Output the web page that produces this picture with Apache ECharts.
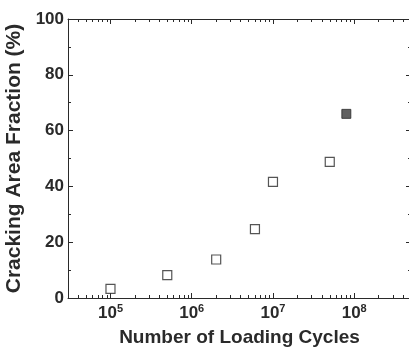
<!DOCTYPE html>
<html><head><meta charset="utf-8">
<script src="https://cdn.jsdelivr.net/npm/echarts@6/dist/echarts.min.js"></script>
<style>html,body{margin:0;padding:0;background:#fff}#c{width:409px;height:347px}</style>
</head><body><div id="c"></div>
<script>
const openCycles = [1e5, 5e5, 2e6, 6e6, 1e7, 5e7];
const openFraction = [3.3, 8.2, 13.8, 24.7, 41.6, 48.8];
const filledCycles = [8e7];
const filledFraction = [66.0];
const xMajorTicks = [1e5, 1e6, 1e7, 1e8];
const xMinorTicks = [];
for (let d = 4; d <= 8; d++) for (let m = 2; m <= 9; m++) { const v = m * Math.pow(10, d); if (v >= 3e4 && v <= 5e8) xMinorTicks.push(v); }
const yTicks = [0, 20, 40, 60, 80, 100];

const ink = '#2a2a2a';
const font = 'Liberation Sans, Arial, sans-serif';
const xmin = 3e4, xmax = 5e8;

function xAx(pos, custom, len, showLabel, showLine) {
  return {
    type: 'log', logBase: 10, min: xmin, max: xmax, position: pos,
    axisLine: { show: showLine, lineStyle: { color: ink, width: 1 } },
    axisTick: { show: true, inside: true, length: len, customValues: custom, lineStyle: { color: ink, width: 1 } },
    axisLabel: showLabel ? {
      show: true, customValues: xMajorTicks, margin: 5,
      formatter: v => '{b|10}{s|' + Math.round(Math.log10(v)) + '}',
      rich: {
        b: { fontSize: 17, fontWeight: 'bold', fontFamily: font, color: ink, lineHeight: 20 },
        s: { fontSize: 11, fontWeight: 'bold', fontFamily: font, color: ink, verticalAlign: 'top', lineHeight: 11 }
      }
    } : { show: false },
    splitLine: { show: false }, minorTick: { show: false }, minorSplitLine: { show: false }
  };
}
function yAx(pos, showLabel) {
  return {
    type: 'value', min: 0, max: 100, interval: 20, position: pos,
    axisLine: { show: true, lineStyle: { color: ink, width: 1 } },
    axisTick: { show: true, inside: true, length: 5, lineStyle: { color: ink, width: 1 } },
    minorTick: { show: true, splitNumber: 2, length: 3, lineStyle: { color: ink, width: 1 } },
    axisLabel: showLabel ? { show: true, fontSize: 17, fontWeight: 'bold', fontFamily: font, color: ink, margin: 4,
      customValues: yTicks } : { show: false },
    splitLine: { show: false }
  };
}

const chart = echarts.init(document.getElementById('c'), null, { renderer: 'canvas' });
const xa0 = xAx('bottom', xMajorTicks, 5, true, true);
xa0.name = 'Number of Loading Cycles';
xa0.nameLocation = 'middle';
xa0.nameGap = 30;
xa0.nameTextStyle = { fontSize: 19, fontWeight: 'bold', fontFamily: font, color: ink };
const ya0 = yAx('left', true);
ya0.name = 'Cracking Area Fraction (%)';
ya0.nameLocation = 'middle';
ya0.nameGap = 38;
ya0.nameTextStyle = { fontSize: 21, fontWeight: 'bold', fontFamily: font, color: ink };

chart.setOption({
  animation: false,
  backgroundColor: '#fff',
  grid: { left: 68, right: -2, top: 19, bottom: 49, containLabel: false, outerBoundsMode: 'none' },
  xAxis: [
    xa0,
    xAx('bottom', xMinorTicks, 3, false, false),
    xAx('top', xMajorTicks, 5, false, true),
    xAx('top', xMinorTicks, 3, false, false)
  ],
  yAxis: [ya0, yAx('right', false)],
  series: [
    { type: 'scatter', xAxisIndex: 0, yAxisIndex: 0, symbol: 'rect', symbolSize: 9,
      data: openCycles.map((c, i) => [c, openFraction[i]]),
      itemStyle: { color: '#fff', borderColor: ink, borderWidth: 1.2 } },
    { type: 'scatter', xAxisIndex: 0, yAxisIndex: 0, symbol: 'rect', symbolSize: 9,
      data: filledCycles.map((c, i) => [c, filledFraction[i]]),
      itemStyle: { color: '#3a3a3a', borderColor: ink, borderWidth: 1 } }
  ]
});
</script></body></html>
